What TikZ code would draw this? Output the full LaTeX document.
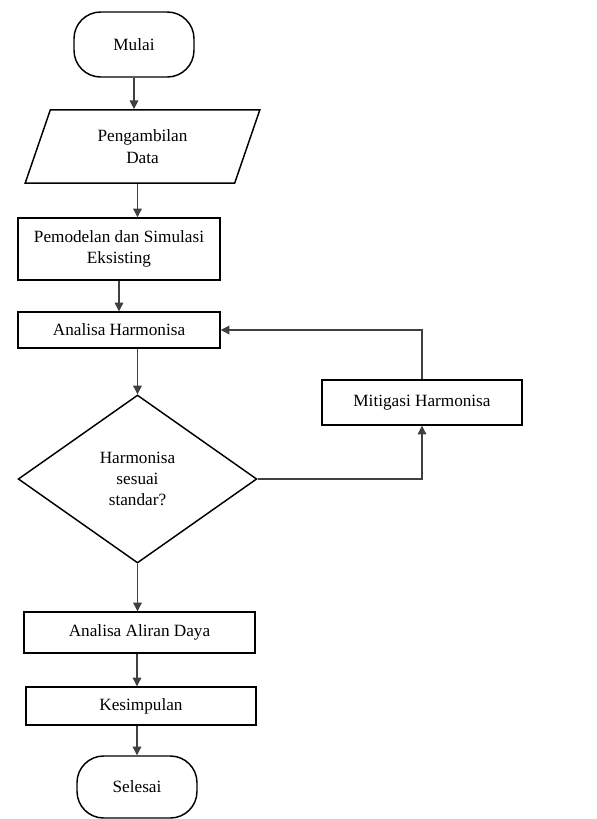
\documentclass[tikz,border=0pt]{standalone}
\usepackage{fontspec}
\setmainfont{Liberation Serif}
\usetikzlibrary{shapes.geometric,arrows.meta,positioning,calc}
\tikzset{
  term/.style={rectangle, draw, rounded corners=20pt, line width=1.1pt, align=center,
               font=\fontsize{12.9}{16}\selectfont, inner sep=2pt},
  io/.style={trapezium, trapezium left angle=57, trapezium right angle=123,
             trapezium stretches body=true, draw, line width=1.1pt, align=center,
             font=\fontsize{12.9}{16}\selectfont, inner sep=2pt},
  proc/.style={rectangle, draw, line width=1.1pt, align=center,
               font=\fontsize{12.9}{16}\selectfont, inner sep=2pt},
  dec/.style={diamond, draw, line width=1.1pt, align=center, inner sep=0pt,
              font=\fontsize{12.9}{16}\selectfont},
  arr/.style={-{Triangle[length=6.5pt,width=6.5pt]}, line width=0.9pt, draw=black!75}
}
\begin{document}
\begin{tikzpicture}[x=0.75pt,y=-0.75pt]
  \useasboundingbox (0,0) rectangle (597,819);
  % column nodes
  \node[term, minimum width=90pt, minimum height=48.75pt] (mulai) at (134,44.5) {Mulai};
  \node[io, minimum width=176pt, minimum height=55pt] (ambil) at (142.5,146.5) {Pengambilan\\Data};
  \node[proc, minimum width=151.5pt, minimum height=46.5pt] (model) at (119,249) {Pemodelan dan Simulasi\\Eksisting};
  \node[proc, minimum width=151.5pt, minimum height=27pt] (ah) at (119,330) {Analisa Harmonisa};
  \node[dec, minimum width=179pt, minimum height=126pt] (cek) at (137.5,479) {Harmonisa\\sesuai\\standar?};
  \node[proc, minimum width=150pt, minimum height=33.75pt] (mit) at (422,402.5) {Mitigasi Harmonisa};
  \node[proc, minimum width=173pt, minimum height=30.75pt] (aad) at (139.5,632.5) {Analisa Aliran Daya};
  \node[proc, minimum width=172.5pt, minimum height=28.5pt] (kes) at (141,706) {Kesimpulan};
  \node[term, minimum width=90pt, minimum height=46.5pt] (sel) at (137,787) {Selesai};
  \coordinate (ambilout) at ($(ambil.south)+(-5,0)$);
  % connectors
  \draw[arr] (mulai.south) -- (mulai.south |- ambil.north);
  \draw[arr] (ambilout) -- (ambilout |- model.north);
  \draw[arr] (model.south) -- (ah.north);
  \draw[arr] (ah.south -| cek.north) -- (cek.north);
  \draw[arr] (cek.south) -- (cek.south |- aad.north);
  \draw[arr] (aad.south -| sel.north) -- (sel.north |- kes.north);
  \draw[arr] (kes.south -| sel.north) -- (sel.north);
  % feedback loop
  \draw[arr] (cek.east) -| (mit.south);
  \draw[arr] (mit.north) |- (ah.east);
\end{tikzpicture}
\end{document}
